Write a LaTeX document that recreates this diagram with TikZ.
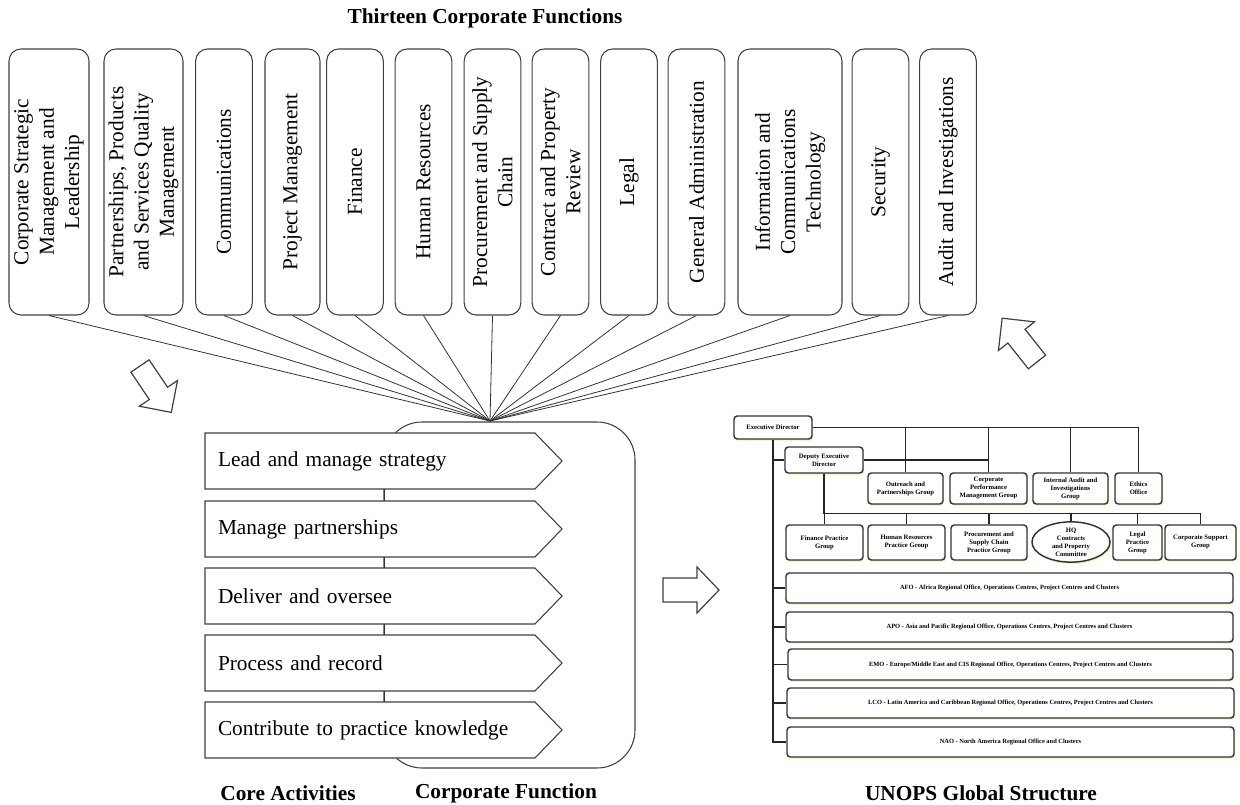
\documentclass[tikz,border=0pt]{standalone}
\usepackage{fontspec}
\setmainfont{Liberation Serif}
\usetikzlibrary{shapes.geometric,shadows,calc}
\begin{document}
\begin{tikzpicture}[x=0.75pt,y=-0.75pt,
  fbox/.style={draw=black!75, line width=0.8pt, rounded corners=9pt, rotate=90,
    minimum width=199.5pt, minimum height=42.5pt, align=center,
    font=\fontsize{16}{19}\selectfont, inner sep=1pt},
  fanline/.style={draw=black!80, line width=0.6pt},
  chevshape/.style={draw=black!75, line width=0.8pt, fill=white},
  chevtext/.style={minimum width=247.5pt, minimum height=42pt, text width=228pt,
    inner xsep=9.75pt, align=left, font=\fontsize{16}{19}\selectfont},
  conn/.style={draw=black!80, line width=0.7pt},
  cfbox/.style={draw=black!75, line width=0.8pt, rounded corners=28.5pt},
  barrow/.style={draw=black!75, line width=0.9pt, fill=white, line join=miter},
  lbl/.style={font=\fontsize{16}{19}\selectfont\bfseries},
  ob/.style={draw=black!80, line width=1.1pt, rounded corners=2.5pt, fill=white,
    align=center, font=\fontsize{5}{6}\selectfont\bfseries, inner sep=0.5pt,
    drop shadow={shadow xshift=0.9pt, shadow yshift=-1.3pt,
      fill=brown!40!yellow!50!white, opacity=0.7}},
  rb/.style={ob, minimum width=335.25pt, minimum height=22.5pt,
    font=\fontsize{4.8}{5.5}\selectfont\bfseries},
  ol/.style={draw=black!85, line width=1.1pt}
]
\useasboundingbox (0,0) rectangle (1240,805);

% title
\node[lbl] (title) at (485,18) {Thirteen Corporate Functions};

% thirteen corporate function boxes
\node[fbox, minimum height=60pt] (b1) at (49,182) {Corporate Strategic\\Management and\\Leadership};
\node[fbox, minimum height=59.25pt] (b2) at (143.5,182) {Partnerships, Products\\and Services Quality\\Management};
\node[fbox] (b3) at (224,182) {Communications};
\node[fbox, minimum height=41.25pt] (b4) at (292.5,182) {Project Management};
\node[fbox] (b5) at (355,182) {Finance};
\node[fbox] (b6) at (423.5,182) {Human Resources};
\node[fbox] (b7) at (492.5,182) {Procurement and Supply\\Chain};
\node[fbox] (b8) at (560.5,182) {Contract and Property\\Review};
\node[fbox] (b9) at (629,182) {Legal};
\node[fbox] (b10) at (696.5,182) {General Administration};
\node[fbox, minimum height=78pt] (b11) at (790,182) {Information and\\Communications\\Technology};
\node[fbox] (b12) at (880.5,182) {Security};
\node[fbox] (b13) at (948,182) {Audit and Investigations};

% fan
\coordinate (fan) at (490,421);
\foreach \i in {1,...,13} { \draw[fanline] (b\i.west) -- (fan); }

% corporate function frame
\node[cfbox, minimum width=188.25pt, minimum height=259.5pt] (cf) at (509.5,595) {};

% chevrons
\foreach \t in {433,501,568,635,702} {
  \filldraw[chevshape] (205,\t) -- (535,\t) -- (562,\t+28) -- (535,\t+56) -- (205,\t+56) -- cycle;
}
\node[chevtext] (c1) at (370,461) {Lead and manage strategy};
\node[chevtext] (c2) at (370,529) {Manage partnerships};
\node[chevtext] (c3) at (370,596) {Deliver and oversee};
\node[chevtext] (c4) at (370,663) {Process and record};
\node[chevtext] (c5) at (370,730) {Contribute to practice knowledge};
\foreach \a/\b in {c1/c2,c2/c3,c3/c4,c4/c5} {
  \draw[conn] ($(\a.south)+(14,0)$) -- ($(\b.north)+(14,0)$);
}

% bottom labels
\node[lbl] (lca) at (288,793) {Core Activities};
\node[lbl] (lcf) at (506,793) {Corporate Function};
\node[lbl] (lgs) at (981,793) {UNOPS Global Structure};

% block arrows
\begin{scope}[shift={(140,366)}, rotate=-56]
  \draw[barrow] (0,-11) -- (33,-11) -- (33,-23) -- (56,0) -- (33,23) -- (33,11) -- (0,11) -- cycle;
\end{scope}
\begin{scope}[shift={(663,590)}]
  \draw[barrow] (0,-12) -- (34,-12) -- (34,-23) -- (56,0) -- (34,23) -- (34,12) -- (0,12) -- cycle;
\end{scope}
\begin{scope}[shift={(1037,362)}, rotate=128.5]
  \draw[barrow] (0,-11) -- (33,-11) -- (33,-23) -- (56,0) -- (33,23) -- (33,11) -- (0,11) -- cycle;
\end{scope}

% UNOPS global structure
\node[ob, minimum width=58.5pt, minimum height=17.25pt] (ed) at (773,427.5) {Executive Director};
\node[ob, minimum width=58.5pt, minimum height=19.5pt] (ded) at (824,460) {Deputy Executive\\Director};
\node[ob, minimum width=56.25pt, minimum height=23.25pt] (opg) at (905.5,488.5) {Outreach and\\Partnerships Group};
\node[ob, minimum width=57.75pt, minimum height=23.25pt] (cpm) at (988.5,488.5) {Corporate\\Performance\\Management Group};
\node[ob, minimum width=56.25pt, minimum height=23.25pt] (iai) at (1070.5,488.5) {Internal Audit and\\Investigations\\Group};
\node[ob, minimum width=35.25pt, minimum height=23.25pt] (eth) at (1138.5,488.5) {Ethics\\Office};
\node[ob, minimum width=57.75pt, minimum height=26.25pt] (fpg) at (824.5,542.5) {Finance Practice\\Group};
\node[ob, minimum width=57.75pt, minimum height=26.25pt] (hrp) at (906.5,542.5) {Human Resources\\Practice Group};
\node[ob, minimum width=57pt, minimum height=26.25pt] (psc) at (989,542.5) {Procurement and\\Supply Chain\\Practice Group};
\node[ob, ellipse, minimum width=58.5pt, minimum height=30pt, inner sep=0pt] (hqc) at (1071,542) {HQ\\Contracts\\and Property\\Committee};
\node[ob, minimum width=36.75pt, minimum height=26.25pt] (lpg) at (1137.5,542.5) {Legal\\Practice\\Group};
\node[ob, minimum width=53.25pt, minimum height=26.25pt] (csg) at (1200.5,542.5) {Corporate Support\\Group};
\node[rb] (afo) at (1009.5,588) {AFO - Africa Regional Office, Operations Centres, Project Centres and Clusters};
\node[rb] (apo) at (1009.5,627) {APO - Asia and Pacific Regional Office, Operations Centres, Project Centres and Clusters};
\node[rb, minimum width=333.75pt, minimum height=23.25pt] (emo) at (1010.5,664.5) {EMO - Europe/Middle East and CIS Regional Office, Operations Centres, Project Centres and Clusters};
\node[rb] (lco) at (1010.5,703) {LCO - Latin America and Caribbean Regional Office, Operations Centres, Project Centres and Clusters};
\node[rb] (nao) at (1010.5,742) {NAO - North America Regional Office and Clusters};

\draw[ol] (ed.east) -- (ed.east -| eth.north) -- (eth.north);
\foreach \n in {opg,cpm,iai} { \draw[ol] (\n.north) -- (\n.north |- ed.east); }
\draw[ol] (ed.south) |- (nao.west);
\foreach \n in {afo,apo,emo,lco} { \draw[ol] (\n.west) -- (\n.west -| ed.south); }
\draw[ol] (ded.west) -- (ded.west -| ed.south);
\draw[ol] (ded.east) -- (ded.east -| cpm.north);
\coordinate (bus) at ($(ded.south)+(0,40)$);
\draw[ol] (ded.south) -- (bus) -- (bus -| csg.north) -- (csg.north);
\draw[ol] (bus) -- (bus -| fpg.north) -- (fpg.north);
\foreach \n in {hrp,psc,hqc,lpg} { \draw[ol] (\n.north) -- (\n.north |- bus); }
\end{tikzpicture}
\end{document}
